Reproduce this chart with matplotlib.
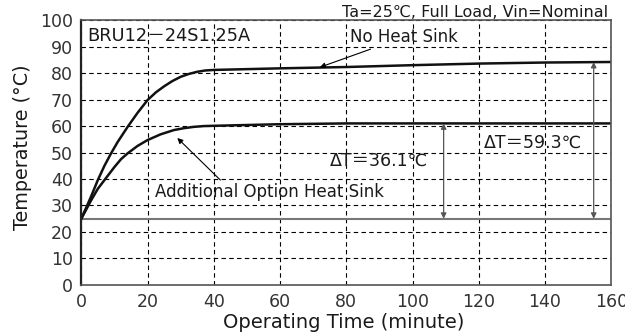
import matplotlib
matplotlib.use("Agg")
import matplotlib.pyplot as plt

plt.rcParams['font.family'] = ['DejaVu Sans', 'Noto Sans CJK JP']

# values
time_no_sink = [0, 1.6, 3, 5, 7, 9, 11, 14, 17, 20, 22.5, 25, 27.5, 30, 32.5, 35, 37.5, 40,
                50, 60, 80, 100, 120, 140, 160]
temp_no_sink = [25, 29.5, 33.5, 39.6, 45, 49.7, 54, 59.7, 65, 69.8, 72.7, 75, 77, 78.6, 79.7, 80.5, 81, 81.2,
                81.5, 81.8, 82.3, 83, 83.6, 84, 84.2]

time_sink = [0, 1.3, 3, 5, 7, 10, 12, 14, 17, 20, 24, 28, 31, 34, 37, 40,
             50, 60, 80, 100, 120, 140, 160]
temp_sink = [25, 28, 32, 36.3, 39.6, 44.5, 47.5, 49.7, 52.5, 54.7, 56.9, 58.5, 59.2, 59.7, 60, 60.1,
             60.4, 60.7, 61, 61, 61, 61, 61]

ambient = 25
x_ticks = [0, 20, 40, 60, 80, 100, 120, 140, 160]
y_ticks = [0, 10, 20, 30, 40, 50, 60, 70, 80, 90, 100]

txt = '#1a1a1a'

fig = plt.figure(figsize=(6.25, 3.36), dpi=100)
ax = fig.add_axes([0.130, 0.152, 0.848, 0.788])

ax.set_xlim(0, 160)
ax.set_ylim(0, 100)
ax.set_xticks(x_ticks)
ax.set_yticks(y_ticks)
ax.tick_params(length=0, labelsize=12.5, colors='#333333')
ax.tick_params(axis='y', pad=6)
ax.tick_params(axis='x', pad=5.5)
for sp in ax.spines.values():
    sp.set_color('#555555')
    sp.set_linewidth(1.2)
ax.spines['left'].set_color('#222222')
ax.spines['left'].set_linewidth(1.6)

ax.grid(True, color='black', linestyle=(0, (4, 3)), linewidth=0.8)
ax.set_axisbelow(True)

ax.axhline(ambient, color='#777777', linewidth=1.5)
ax.plot(time_no_sink, temp_no_sink, color='#111111', linewidth=1.8)
ax.plot(time_sink, temp_sink, color='#111111', linewidth=1.8)

# annotations
arrow = dict(arrowstyle='-|>', color='black', lw=0.8, mutation_scale=8, shrinkA=0, shrinkB=0)
ax.annotate('No Heat Sink', xy=(72, 82.2), xytext=(81, 93.5),
            fontsize=12, va='center', ha='left', color=txt, arrowprops=arrow)
ax.annotate('', xy=(29, 55.5), xytext=(42, 39.6), arrowprops=arrow)
ax.text(22.3, 35, 'Additional Option Heat Sink', fontsize=12, va='center', ha='left', color=txt)

darrow = dict(arrowstyle='<|-|>', color='#555555', lw=0.9, mutation_scale=8, shrinkA=0, shrinkB=0)
ax.annotate('', xy=(109.4, temp_sink[-1]), xytext=(109.4, ambient), arrowprops=darrow)
ax.annotate('', xy=(154.7, temp_no_sink[-1]), xytext=(154.7, ambient), arrowprops=darrow)
ax.text(75.2, 46.8, 'ΔT＝36.1℃', fontsize=12.5, va='center', ha='left', color=txt)
ax.text(121.5, 53.6, 'ΔT＝59.3℃', fontsize=12.5, va='center', ha='left', color=txt)

ax.text(1.8, 94, 'BRU12－24S1.25A', fontsize=12.8, va='center', ha='left', color=txt)
ax.text(0.995, 1.0, 'Ta=25℃, Full Load, Vin=Nominal', transform=ax.transAxes,
        fontsize=11.5, va='bottom', ha='right', color=txt)

ax.set_xlabel('Operating Time (minute)', fontsize=14, color=txt)
ax.set_ylabel('Temperature (°C)', fontsize=13.8, color=txt)
ax.xaxis.set_label_coords(0.496, -0.143)
ax.xaxis.label.set_verticalalignment('center')
ax.yaxis.set_label_coords(-0.111, 0.519)
ax.yaxis.label.set_verticalalignment('center')

fig.savefig('out.png', dpi=100)
